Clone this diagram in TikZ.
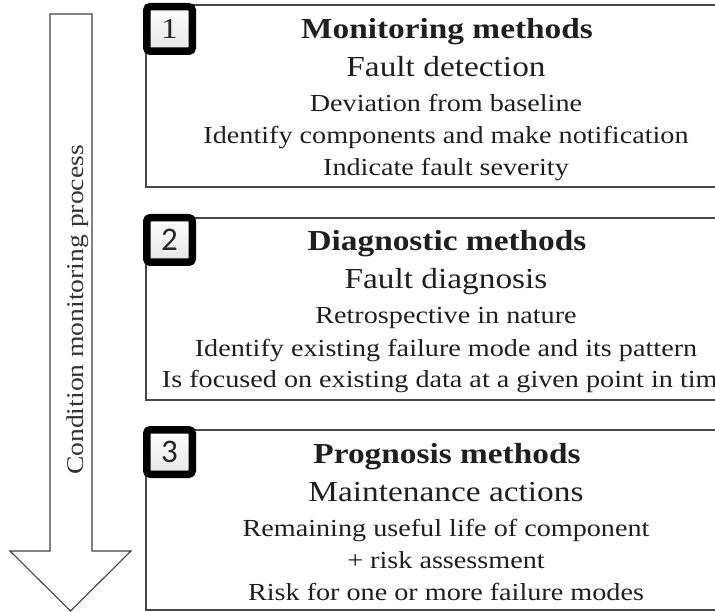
\documentclass[tikz,border=0pt]{standalone}
\usepackage{fontspec}
\setmainfont{Liberation Serif}[FakeStretch=1.15]
\newfontfamily\numfont{Carlito}
\begin{document}
\begin{tikzpicture}[x=1pt,y=-1pt,inner sep=0pt,
  frame/.style={draw=black!72, line width=1.3pt},
  arrowshape/.style={draw=black!75, line width=1.1pt, fill=white},
  numbox/.style={draw=black, line width=7.5pt, rounded corners=3.5pt, top color=white, bottom color=black!10},
  digit/.style={anchor=center, text=black!85},
  title/.style={font=\bfseries\fontsize{29}{30}\selectfont, text=black!88, anchor=base},
  sub/.style={font=\fontsize{29}{31}\selectfont, text=black!88, anchor=base},
  body/.style={font=\fontsize{24.5}{26}\selectfont, text=black!88, anchor=base},
  side/.style={font=\fontsize{24}{26}\selectfont, text=black!80, anchor=base, rotate=90}]
\useasboundingbox (0,0) rectangle (715,612);
% arrow
\draw[arrowshape] (50,14) -- (92,14) -- (92,551) -- (131,551) -- (70.5,611) -- (10,551) -- (50,551) -- cycle;
\node[side] (proc) at (83,310) {Condition monitoring process};
% frames
\draw[frame] (146,5) rectangle (790,187);
\draw[frame] (146,218) rectangle (790,400);
\draw[frame] (146,430) rectangle (790,610);
% number boxes
\path[numbox] (146.75,6.75) rectangle (192.25,51.25);
\node[digit, font=\fontsize{29}{29}\selectfont] (n1) at (169.5,29) {1};
\path[numbox] (146.75,217.75) rectangle (192.25,262.25);
\node[digit, font=\numfont\fontsize{33}{33}\selectfont] (n2) at (169.5,240) {2};
\path[numbox] (146.75,429.75) rectangle (192.25,474.25);
\node[digit, font=\numfont\fontsize{33}{33}\selectfont] (n3) at (169.5,452) {3};
% box 1
\node[title] (t1) at (447,39) {Monitoring methods};
\node[sub] (s1) at (446,77) {Fault detection};
\node[body] (b11) at (446,112) {Deviation from baseline};
\node[body] (b12) at (446,144) {Identify components and make notification};
\node[body] (b13) at (446,176) {Indicate fault severity};
% box 2
\node[title] (t2) at (447,251) {Diagnostic methods};
\node[sub] (s2) at (446,289) {Fault diagnosis};
\node[body] (b21) at (446,324) {Retrospective in nature};
\node[body] (b22) at (446,356) {Identify existing failure mode and its pattern};
\node[body] (b23) at (446,388) {Is focused on existing data at a given point in time};
% box 3
\node[title] (t3) at (447,463) {Prognosis methods};
\node[sub] (s3) at (446,501) {Maintenance actions};
\node[body] (b31) at (446,536) {Remaining useful life of component};
\node[body] (b32) at (446,568) {+ risk assessment};
\node[body] (b33) at (446,600) {Risk for one or more failure modes};
\end{tikzpicture}
\end{document}
